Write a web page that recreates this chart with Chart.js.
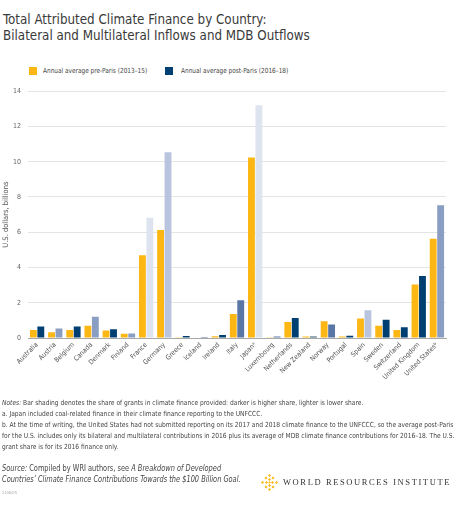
<!DOCTYPE html>
<html>
<head>
<meta charset="utf-8">
<script src="https://cdn.jsdelivr.net/npm/chart.js@4.4.0/dist/chart.umd.min.js"></script>
<style>
  html, body { margin:0; padding:0; background:#fff; }
  body { width:455px; height:505px; position:relative; overflow:hidden; font-family:"DejaVu Sans Condensed","Liberation Sans Narrow",sans-serif; color:#444; }
  .abs { position:absolute; transform-origin:0 0; }
  #title { left:3px; top:11px; font-size:14.5px; line-height:16px; color:#3a3a3a; white-space:nowrap; transform:scaleX(0.915); }
  .leg { font-size:7px; line-height:8px; color:#444; white-space:nowrap; transform:scaleX(0.92); }
  .box { width:8px; height:8px; }
  #notes { left:2px; top:398px; font-size:7px; line-height:11px; color:#444; white-space:nowrap; transform:scaleX(0.945); }
  #source { left:2px; top:463px; font-size:8px; line-height:11px; color:#444; white-space:nowrap; transform:scaleX(0.92); }
  #code { left:2px; top:490px; font-size:4px; color:#aaa; }
  #wri { left:283px; top:477px; font-family:"Liberation Serif","DejaVu Serif",serif; font-size:8.5px; letter-spacing:1.6px; color:#333; white-space:nowrap; }
  canvas { position:absolute; left:0; top:80px; }
</style>
</head>
<body>
<div id="title" class="abs">Total Attributed Climate Finance by Country:<br>Bilateral and Multilateral Inflows and MDB Outflows</div>

<div class="abs box" style="left:29px;top:67px;background:#FDB714"></div>
<div class="abs leg" style="left:43px;top:67px">Annual average pre-Paris (2013–15)</div>
<div class="abs box" style="left:165px;top:67px;background:#003F72"></div>
<div class="abs leg" style="left:181px;top:67px">Annual average post-Paris (2016–18)</div>

<canvas id="c" width="455" height="320"></canvas>

<div id="notes" class="abs"><i>Notes:</i> Bar shading denotes the share of grants in climate finance provided: darker is higher share, lighter is lower share.<br>a. Japan included coal-related finance in their climate finance reporting to the UNFCCC.<br>b. At the time of writing, the United States had not submitted reporting on its 2017 and 2018 climate finance to the UNFCCC, so the average post-Paris<br>for the U.S. includes only its bilateral and multilateral contributions in 2016 plus its average of MDB climate finance contributions for 2016–18. The U.S.<br>grant share is for its 2016 finance only.</div>

<div id="source" class="abs"><i>Source:</i> Compiled by WRI authors, see <i>A Breakdown of Developed<br>Countries’ Climate Finance Contributions Towards the $100 Billion Goal.</i></div>
<div id="code" class="abs">2108/05</div>

<svg class="abs" style="left:261px;top:474px" width="17" height="17" viewBox="0 0 17 17">
  <g fill="#FDB714">
    <path d="M8.5 0 L10 1.5 L8.5 3 L7 1.5Z"/>
    <path d="M8.5 14 L10 15.5 L8.5 17 L7 15.5Z"/>
    <path d="M1.5 7 L3 8.5 L1.5 10 L0 8.5Z"/>
    <path d="M15.5 7 L17 8.5 L15.5 10 L14 8.5Z"/>
    <path d="M5 2.5 L6.5 4 L5 5.5 L3.5 4Z"/>
    <path d="M12 2.5 L13.5 4 L12 5.5 L10.5 4Z"/>
    <path d="M5 11.5 L6.5 13 L5 14.5 L3.5 13Z"/>
    <path d="M12 11.5 L13.5 13 L12 14.5 L10.5 13Z"/>
    <path d="M8.5 4 L10 5.5 L8.5 7 L7 5.5Z"/>
    <path d="M8.5 10 L10 11.5 L8.5 13 L7 11.5Z"/>
    <path d="M5.5 7 L7 8.5 L5.5 10 L4 8.5Z"/>
    <path d="M11.5 7 L13 8.5 L11.5 10 L10 8.5Z"/>
    <path d="M8.5 7.2 L9.8 8.5 L8.5 9.8 L7.2 8.5Z"/>
  </g>
</svg>
<div id="wri" class="abs">WORLD RESOURCES INSTITUTE</div>

<script>
const categories = ["Australia","Austria","Belgium","Canada","Denmark","Finland","France","Germany","Greece","Iceland","Ireland","Italy","Japanᵃ","Luxembourg","Netherlands","New Zealand","Norway","Portugal","Spain","Sweden","Switzerland","United Kingdom","United Statesᵇ"];
const preParis  = [0.46,0.33,0.46,0.69,0.43,0.24,4.70,6.12,0.04,0.03,0.10,1.36,10.24,0.04,0.91,0.09,0.95,0.09,1.10,0.69,0.46,3.03,5.63];
const postParis = [0.65,0.54,0.65,1.21,0.50,0.26,6.82,10.54,0.11,0.05,0.17,2.14,13.20,0.09,1.13,0.09,0.76,0.13,1.58,1.04,0.61,3.51,7.53];
// grant-share shading level of post-Paris bars (0 = darkest ... 5 = lightest)
const postShade = [0,3,0,3,0,3,5,4,0,2,0,2,5,2,0,1,2,0,4,0,0,0,3];
const yTicks = [0,2,4,6,8,10,12,14];

const shadeColors = ["#003F72","#2E5A6C","#5A76A7","#8A9DC3","#B9C4DF","#DDE3EF"];
const FONT = "'DejaVu Sans Condensed','Liberation Sans Narrow',sans-serif";

new Chart(document.getElementById('c'), {
  type: 'bar',
  data: {
    labels: categories,
    datasets: [
      { label: 'Annual average pre-Paris (2013–15)', data: preParis, backgroundColor: '#FDB714', borderWidth: 0 },
      { label: 'Annual average post-Paris (2016–18)', data: postParis, backgroundColor: postShade.map(s => shadeColors[s]), borderWidth: 0 }
    ]
  },
  options: {
    responsive: false,
    animation: false,
    layout: { padding: { top: 7, right: 9, left: 0, bottom: 0 } },
    plugins: { legend: { display: false }, tooltip: { enabled: false } },
    datasets: { bar: { categoryPercentage: 0.82, barPercentage: 0.92 } },
    scales: {
      x: {
        grid: { display: false, drawTicks: false },
        border: { display: true, color: '#a8a8a8', width: 1 },
        ticks: { autoSkip: false, maxRotation: 45, minRotation: 45, padding: 3, color: '#555', font: { family: FONT, size: 6.8 } },
        afterFit: s => { s.height = 62; }
      },
      y: {
        min: 0, max: 14,
        afterBuildTicks: s => { s.ticks = yTicks.map(v => ({ value: v })); },
        grid: { color: '#e4e4e4', drawTicks: false, lineWidth: 1 },
        border: { display: false },
        ticks: { padding: 7, color: '#666', font: { family: FONT, size: 7 } },
        title: { display: true, text: 'U.S. dollars, billions', color: '#555', padding: { top: 2, bottom: 0 }, font: { family: FONT, size: 7.5 } },
        afterFit: s => { s.width = 28; }
      }
    }
  }
});
</script>
</body>
</html>
